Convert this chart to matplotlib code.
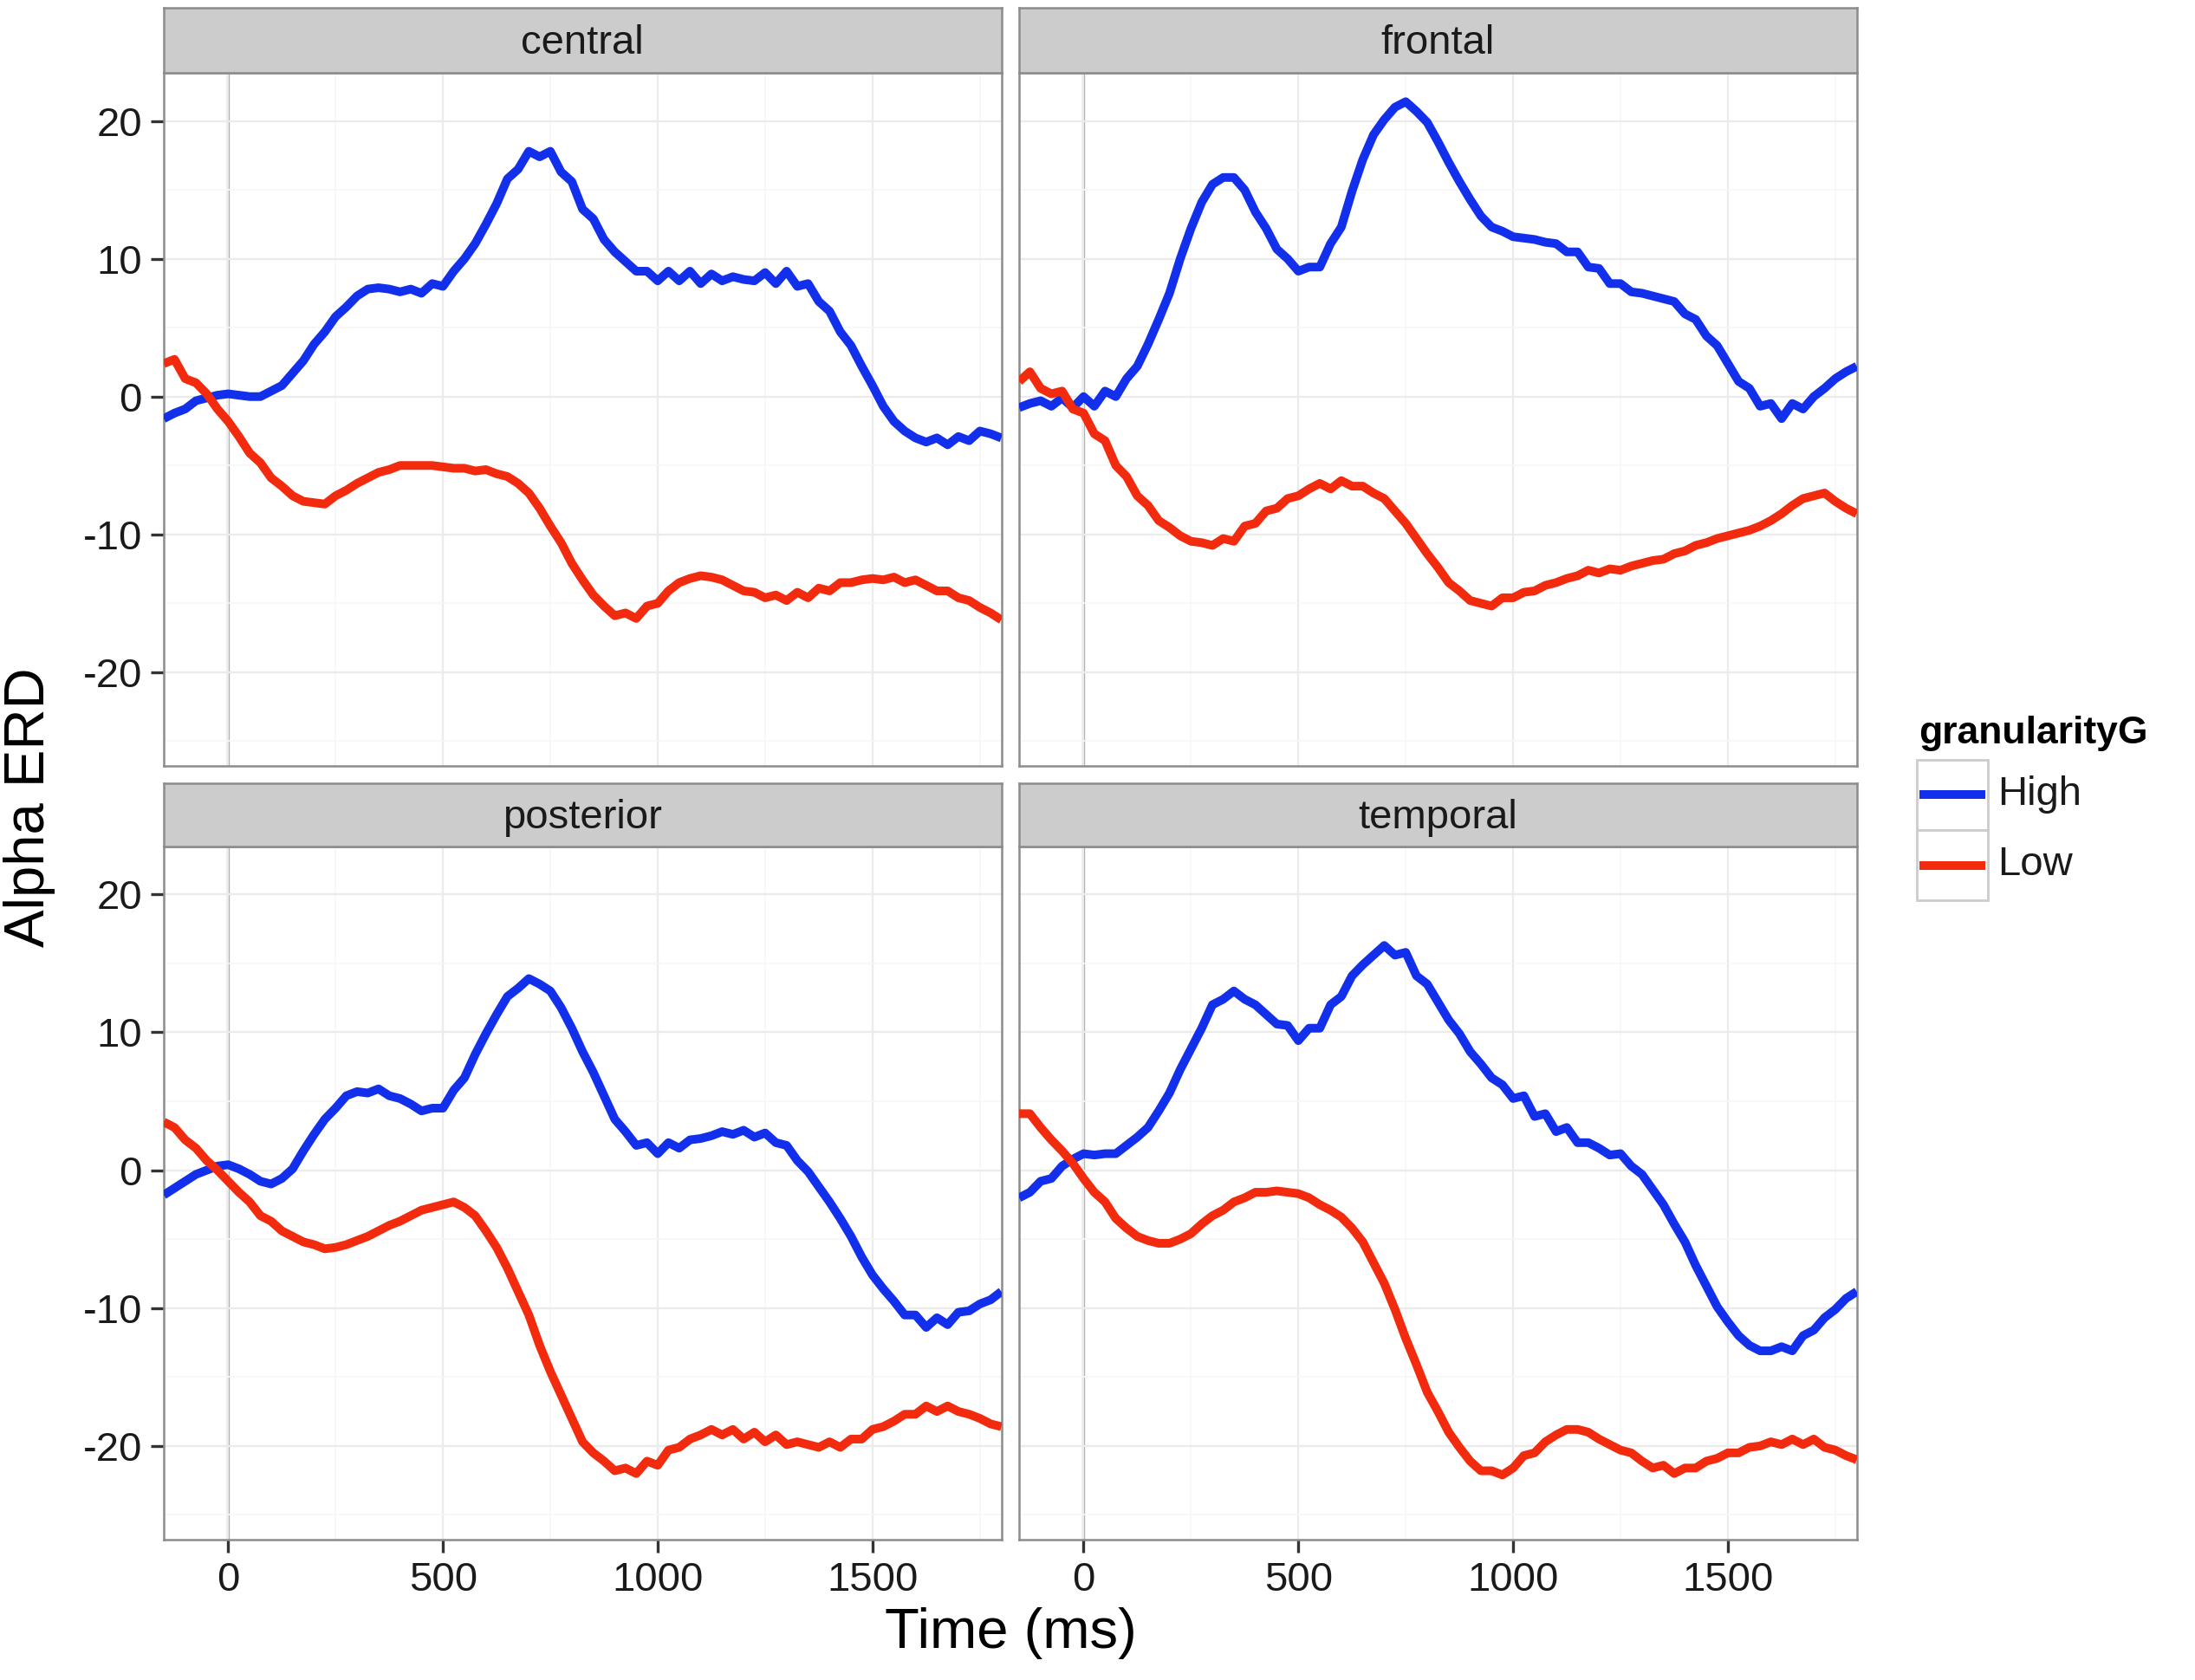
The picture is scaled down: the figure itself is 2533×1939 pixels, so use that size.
import matplotlib
matplotlib.use("Agg")
import matplotlib.pyplot as plt
import numpy as np
from matplotlib.patches import Rectangle
from matplotlib.lines import Line2D
import logging
logging.getLogger('matplotlib.font_manager').setLevel(logging.ERROR)

plt.rcParams['font.family'] = ['Liberation Sans', 'DejaVu Sans']
plt.rcParams['axes.unicode_minus'] = False

# ---------------- data ----------------
time_ms = list(range(-150, 1801, 25))

central_high = [-1.6, -1.2, -0.9, -0.3, -0.1, 0.1, 0.2, 0.1, 0.0, 0.0, 0.4, 0.8, 1.7, 2.6, 3.8, 4.7,
                5.8, 6.5, 7.3, 7.8, 7.9, 7.8, 7.6, 7.8, 7.5, 8.2, 8.0, 9.1, 10.0, 11.1, 12.5, 14.0,
                15.8, 16.5, 17.8, 17.4, 17.8, 16.3, 15.6, 13.6, 12.9, 11.4, 10.5, 9.8, 9.1, 9.1, 8.4,
                9.1, 8.4, 9.1, 8.2, 8.9, 8.4, 8.7, 8.5, 8.4, 9.0, 8.2, 9.1, 8.0, 8.2, 6.9, 6.2, 4.7,
                3.7, 2.2, 0.8, -0.7, -1.8, -2.5, -3.0, -3.3, -3.0, -3.5, -2.9, -3.2, -2.5, -2.7, -3.0]
central_low = [2.4, 2.7, 1.3, 1.0, 0.2, -0.9, -1.8, -2.9, -4.1, -4.8, -5.9, -6.5, -7.2, -7.6, -7.7, -7.8,
               -7.2, -6.8, -6.3, -5.9, -5.5, -5.3, -5.0, -5.0, -5.0, -5.0, -5.1, -5.2, -5.2, -5.4, -5.3,
               -5.6, -5.8, -6.3, -7.0, -8.1, -9.4, -10.6, -12.1, -13.3, -14.4, -15.2, -15.9, -15.7,
               -16.1, -15.2, -15.0, -14.1, -13.5, -13.2, -13.0, -13.1, -13.3, -13.7, -14.1, -14.2,
               -14.6, -14.4, -14.8, -14.2, -14.6, -13.9, -14.1, -13.5, -13.5, -13.3, -13.2, -13.3,
               -13.1, -13.5, -13.3, -13.7, -14.1, -14.1, -14.6, -14.8, -15.3, -15.7, -16.2]

frontal_high = [-0.8, -0.5, -0.3, -0.7, -0.1, -0.8, 0.0, -0.7, 0.4, 0.0, 1.3, 2.2, 3.8, 5.6, 7.5, 10.0,
                12.2, 14.1, 15.4, 15.9, 15.9, 15.0, 13.4, 12.2, 10.7, 10.0, 9.1, 9.4, 9.4, 11.1, 12.3,
                14.9, 17.2, 19.0, 20.1, 21.0, 21.4, 20.7, 19.9, 18.5, 17.0, 15.6, 14.3, 13.1, 12.3,
                12.0, 11.6, 11.5, 11.4, 11.2, 11.1, 10.5, 10.5, 9.4, 9.3, 8.2, 8.2, 7.6, 7.5, 7.3, 7.1,
                6.9, 6.0, 5.6, 4.4, 3.7, 2.4, 1.1, 0.6, -0.7, -0.5, -1.6, -0.5, -0.9, 0.0, 0.6, 1.3,
                1.8, 2.2]
frontal_low = [1.1, 1.8, 0.6, 0.2, 0.4, -0.9, -1.2, -2.7, -3.2, -5.0, -5.8, -7.2, -7.9, -9.0, -9.5, -10.1,
               -10.5, -10.6, -10.8, -10.3, -10.5, -9.4, -9.2, -8.3, -8.1, -7.4, -7.2, -6.7, -6.3, -6.7,
               -6.1, -6.5, -6.5, -7.0, -7.4, -8.3, -9.2, -10.3, -11.4, -12.4, -13.5, -14.1, -14.8,
               -15.0, -15.2, -14.6, -14.6, -14.2, -14.1, -13.7, -13.5, -13.2, -13.0, -12.6, -12.8,
               -12.5, -12.6, -12.3, -12.1, -11.9, -11.8, -11.4, -11.2, -10.8, -10.6, -10.3, -10.1,
               -9.9, -9.7, -9.4, -9.0, -8.5, -7.9, -7.4, -7.2, -7.0, -7.6, -8.1, -8.5]

posterior_high = [-1.8, -1.3, -0.8, -0.3, 0.0, 0.3, 0.4, 0.1, -0.3, -0.8, -1.0, -0.6, 0.1, 1.4, 2.6, 3.7,
                  4.5, 5.4, 5.7, 5.6, 5.9, 5.4, 5.2, 4.8, 4.3, 4.5, 4.5, 5.8, 6.7, 8.4, 9.9, 11.3, 12.6,
                  13.2, 13.9, 13.5, 13.0, 11.8, 10.3, 8.6, 7.1, 5.4, 3.7, 2.8, 1.8, 2.0, 1.2, 2.0, 1.6,
                  2.2, 2.3, 2.5, 2.8, 2.6, 2.9, 2.4, 2.7, 2.0, 1.8, 0.7, -0.1, -1.2, -2.3, -3.5, -4.8,
                  -6.3, -7.6, -8.6, -9.5, -10.5, -10.5, -11.4, -10.7, -11.2, -10.3, -10.2, -9.7, -9.4,
                  -8.8]
posterior_low = [3.5, 3.1, 2.2, 1.6, 0.7, 0.0, -0.8, -1.6, -2.3, -3.3, -3.7, -4.4, -4.8, -5.2, -5.4, -5.7,
                 -5.6, -5.4, -5.1, -4.8, -4.4, -4.0, -3.7, -3.3, -2.9, -2.7, -2.5, -2.3, -2.7, -3.3,
                 -4.4, -5.6, -7.1, -8.8, -10.5, -12.7, -14.6, -16.3, -18.0, -19.7, -20.5, -21.1, -21.8,
                 -21.6, -22.0, -21.1, -21.4, -20.3, -20.1, -19.5, -19.2, -18.8, -19.2, -18.8, -19.5,
                 -19.0, -19.7, -19.2, -19.9, -19.7, -19.9, -20.1, -19.7, -20.1, -19.5, -19.5, -18.8,
                 -18.6, -18.2, -17.7, -17.7, -17.1, -17.5, -17.1, -17.5, -17.7, -18.0, -18.4, -18.6]

temporal_high = [-2.0, -1.6, -0.8, -0.6, 0.3, 0.8, 1.2, 1.1, 1.2, 1.2, 1.8, 2.4, 3.1, 4.3, 5.6, 7.3, 8.8,
                 10.3, 12.0, 12.4, 13.0, 12.4, 12.0, 11.3, 10.6, 10.5, 9.4, 10.3, 10.3, 12.0, 12.6, 14.1,
                 14.9, 15.6, 16.3, 15.6, 15.8, 14.1, 13.5, 12.2, 10.9, 9.9, 8.6, 7.7, 6.7, 6.2, 5.2, 5.4,
                 3.9, 4.1, 2.8, 3.1, 2.0, 2.0, 1.6, 1.1, 1.2, 0.3, -0.3, -1.4, -2.5, -3.9, -5.2, -6.9,
                 -8.4, -9.9, -11.0, -12.0, -12.7, -13.1, -13.1, -12.8, -13.1, -12.0, -11.6, -10.7,
                 -10.1, -9.3, -8.8]
temporal_low = [4.1, 4.1, 3.1, 2.2, 1.4, 0.5, -0.6, -1.6, -2.3, -3.5, -4.2, -4.8, -5.1, -5.3, -5.3, -5.0,
                -4.6, -3.9, -3.3, -2.9, -2.3, -2.0, -1.6, -1.6, -1.5, -1.6, -1.7, -2.0, -2.5, -2.9, -3.4,
                -4.2, -5.2, -6.7, -8.2, -10.1, -12.2, -14.1, -16.1, -17.5, -19.0, -20.1, -21.1, -21.8,
                -21.8, -22.1, -21.6, -20.7, -20.5, -19.7, -19.2, -18.8, -18.8, -19.0, -19.5, -19.9,
                -20.3, -20.5, -21.1, -21.6, -21.4, -22.0, -21.6, -21.6, -21.1, -20.9, -20.5, -20.5,
                -20.1, -20.0, -19.7, -19.9, -19.5, -19.9, -19.5, -20.1, -20.3, -20.7, -21.0]

regions = ["central", "frontal", "posterior", "temporal"]
groups = ["High", "Low"]
series = {
    "central": (central_high, central_low),
    "frontal": (frontal_high, frontal_low),
    "posterior": (posterior_high, posterior_low),
    "temporal": (temporal_high, temporal_low),
}
x_ticks = [0, 500, 1000, 1500]
y_ticks = [-20, -10, 0, 10, 20]

# ---------------- style ----------------
BLUE = "#1230EC"
RED = "#F22A0E"
colors = [BLUE, RED]
LW = 7.2
TICK_FS = 34
TITLE_FS = 47

fig = plt.figure(figsize=(25.33, 19.39), dpi=100)
fig.patch.set_facecolor("white")

lefts = [0.0746, 0.4643]
pw = 0.3816
tops = [0.9567, 0.4963]
ph = [0.4126, 0.4128]
strip_h = [0.0389, 0.0377]

for i, reg in enumerate(regions):
    r, c = divmod(i, 2)
    l = lefts[c]
    top = tops[r]
    h = ph[r]
    ax = fig.add_axes([l, top - h, pw, h])
    ax.set_facecolor("white")
    ax.set_xticks([-250, 250, 750, 1250, 1750], minor=True)
    ax.set_yticks([-25, -15, -5, 5, 15], minor=True)
    ax.set_xticks(x_ticks)
    ax.set_yticks(y_ticks)
    ax.grid(which="major", color="#EBEBEB", lw=1.6, zorder=0)
    ax.grid(which="minor", color="#F7F7F7", lw=1.2, zorder=0)
    ax.axvline(0, color="#ABABAB", lw=2.4, zorder=1)
    hi, lo = series[reg]
    ax.plot(time_ms, hi, color=BLUE, lw=LW, zorder=3, solid_joinstyle="round",
            solid_capstyle="butt")
    ax.plot(time_ms, lo, color=RED, lw=LW, zorder=3, solid_joinstyle="round",
            solid_capstyle="butt")
    ax.set_xlim(-150, 1800)
    ax.set_ylim(-26.8, 23.5)
    for s in ax.spines.values():
        s.set_color("#8C8C8C")
        s.set_linewidth(1.8)
    ax.tick_params(which="minor", length=0)
    ax.tick_params(which="major", length=11, width=2.4, color="#333333",
                   labelsize=TICK_FS, pad=7, labelcolor="#1a1a1a")
    if c == 1:
        ax.tick_params(axis="y", labelleft=False, length=0)
    if r == 0:
        ax.tick_params(axis="x", labelbottom=False, length=0)
    # strip
    sax = fig.add_axes([l, top, pw, strip_h[r]])
    sax.set_facecolor("#CCCCCC")
    sax.set_xticks([])
    sax.set_yticks([])
    for s in sax.spines.values():
        s.set_color("#8C8C8C")
        s.set_linewidth(1.8)
    sax.text(0.5, 0.45, reg, ha="center", va="center", fontsize=TICK_FS, color="#1a1a1a",
             transform=sax.transAxes)

fig.text(0.4605, 0.028, "Time (ms)", ha="center", va="center", fontsize=TITLE_FS)
fig.text(0.0135, 0.5197, "Alpha ERD", ha="center", va="center", rotation=90, fontsize=TITLE_FS)

# legend (ggplot-like)
fig.text(0.8741, 0.5632, "granularityG", ha="left", va="center", fontsize=32,
         fontweight="bold")
kx0, kx1 = 2212 / 2533, 2294 / 2533
kys = [(877, 958), (958, 1039)]
for (y0, y1), col, lab in zip(kys, colors, groups):
    fb = 1 - y1 / 1939
    ft = 1 - y0 / 1939
    fig.patches.append(Rectangle((kx0, fb), kx1 - kx0, ft - fb, transform=fig.transFigure,
                                 facecolor="white", edgecolor="#CCCCCC", lw=2.0))
    ym = (fb + ft) / 2
    fig.lines.append(Line2D([2220 / 2533, 2286 / 2533], [ym, ym], transform=fig.transFigure,
                            color=col, lw=LW))
    fig.text(2305 / 2533, ym, lab, ha="left", va="center", fontsize=TICK_FS, color="#1a1a1a")

fig.savefig("out.png", dpi=100, facecolor="white")
